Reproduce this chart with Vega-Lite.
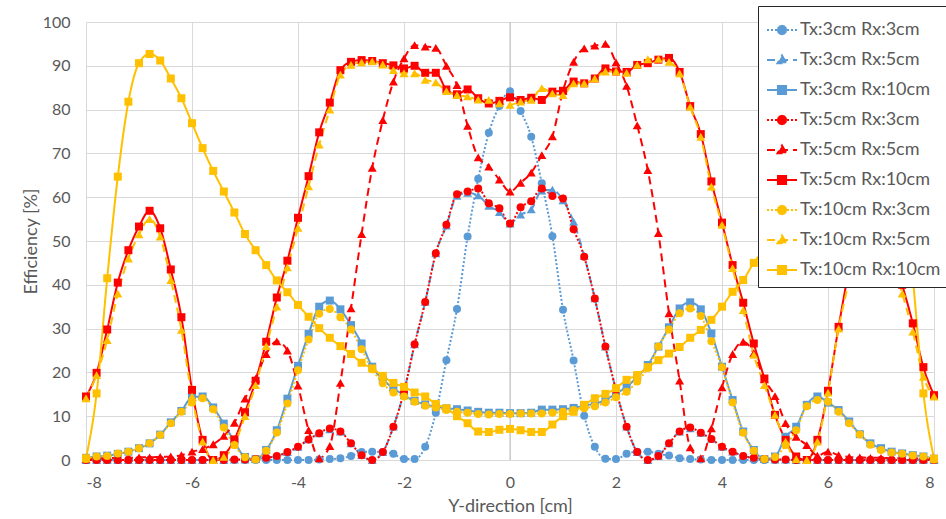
{
"$schema":"https://vega.github.io/schema/vega-lite/v6.json",
"width":848,"height":438,"autosize":"none",
"padding":{"left":86,"top":22,"right":12,"bottom":59},
"background":"white",
"config":{"view":{"stroke":null},"font":"Lato",
"axis":{"labelFont":"Lato","titleFont":"Lato","labelColor":"#595959","titleColor":"#595959","labelFontSize":16,"titleFontSize":18,"titleFontWeight":"normal","gridColor":"#D9D9D9","gridWidth":1,"domain":false,"ticks":false}},
"data":{"values":[
{"series":"Tx:3cm Rx:3cm","x":-8,"y":0},{"series":"Tx:3cm Rx:3cm","x":-7.8,"y":0},{"series":"Tx:3cm Rx:3cm","x":-7.6,"y":0},{"series":"Tx:3cm Rx:3cm","x":-7.4,"y":0},{"series":"Tx:3cm Rx:3cm","x":-7.2,"y":0},{"series":"Tx:3cm Rx:3cm","x":-7,"y":0},{"series":"Tx:3cm Rx:3cm","x":-6.8,"y":0},{"series":"Tx:3cm Rx:3cm","x":-6.6,"y":0},{"series":"Tx:3cm Rx:3cm","x":-6.4,"y":0},{"series":"Tx:3cm Rx:3cm","x":-6.2,"y":0},{"series":"Tx:3cm Rx:3cm","x":-6,"y":0},{"series":"Tx:3cm Rx:3cm","x":-5.8,"y":0},{"series":"Tx:3cm Rx:3cm","x":-5.6,"y":0},{"series":"Tx:3cm Rx:3cm","x":-5.4,"y":0},{"series":"Tx:3cm Rx:3cm","x":-5.2,"y":0},{"series":"Tx:3cm Rx:3cm","x":-5,"y":0},{"series":"Tx:3cm Rx:3cm","x":-4.8,"y":0},{"series":"Tx:3cm Rx:3cm","x":-4.6,"y":0},{"series":"Tx:3cm Rx:3cm","x":-4.4,"y":0},{"series":"Tx:3cm Rx:3cm","x":-4.2,"y":0},{"series":"Tx:3cm Rx:3cm","x":-4,"y":0},{"series":"Tx:3cm Rx:3cm","x":-3.8,"y":0},{"series":"Tx:3cm Rx:3cm","x":-3.6,"y":0.1},{"series":"Tx:3cm Rx:3cm","x":-3.4,"y":0.2},{"series":"Tx:3cm Rx:3cm","x":-3.2,"y":0.4},{"series":"Tx:3cm Rx:3cm","x":-3,"y":0.9},{"series":"Tx:3cm Rx:3cm","x":-2.8,"y":1.8},{"series":"Tx:3cm Rx:3cm","x":-2.6,"y":1.9},{"series":"Tx:3cm Rx:3cm","x":-2.4,"y":1.8},{"series":"Tx:3cm Rx:3cm","x":-2.2,"y":1.4},{"series":"Tx:3cm Rx:3cm","x":-2,"y":0.2},{"series":"Tx:3cm Rx:3cm","x":-1.8,"y":0.2},{"series":"Tx:3cm Rx:3cm","x":-1.6,"y":3.0},{"series":"Tx:3cm Rx:3cm","x":-1.4,"y":10.8},{"series":"Tx:3cm Rx:3cm","x":-1.2,"y":22.8},{"series":"Tx:3cm Rx:3cm","x":-1,"y":34.5},{"series":"Tx:3cm Rx:3cm","x":-0.8,"y":51.0},{"series":"Tx:3cm Rx:3cm","x":-0.6,"y":64.2},{"series":"Tx:3cm Rx:3cm","x":-0.4,"y":74.7},{"series":"Tx:3cm Rx:3cm","x":-0.2,"y":80.8},{"series":"Tx:3cm Rx:3cm","x":0,"y":84.2},{"series":"Tx:3cm Rx:3cm","x":0.2,"y":79.7},{"series":"Tx:3cm Rx:3cm","x":0.4,"y":73.8},{"series":"Tx:3cm Rx:3cm","x":0.6,"y":63.2},{"series":"Tx:3cm Rx:3cm","x":0.8,"y":51.1},{"series":"Tx:3cm Rx:3cm","x":1,"y":34.3},{"series":"Tx:3cm Rx:3cm","x":1.2,"y":22.7},{"series":"Tx:3cm Rx:3cm","x":1.4,"y":10.1},{"series":"Tx:3cm Rx:3cm","x":1.6,"y":3.0},{"series":"Tx:3cm Rx:3cm","x":1.8,"y":0.3},{"series":"Tx:3cm Rx:3cm","x":2,"y":0.2},{"series":"Tx:3cm Rx:3cm","x":2.2,"y":1.4},{"series":"Tx:3cm Rx:3cm","x":2.4,"y":1.9},{"series":"Tx:3cm Rx:3cm","x":2.6,"y":1.9},{"series":"Tx:3cm Rx:3cm","x":2.8,"y":1.4},{"series":"Tx:3cm Rx:3cm","x":3,"y":1.0},{"series":"Tx:3cm Rx:3cm","x":3.2,"y":0.4},{"series":"Tx:3cm Rx:3cm","x":3.4,"y":0.2},{"series":"Tx:3cm Rx:3cm","x":3.6,"y":0.1},{"series":"Tx:3cm Rx:3cm","x":3.8,"y":0},{"series":"Tx:3cm Rx:3cm","x":4,"y":0},{"series":"Tx:3cm Rx:3cm","x":4.2,"y":0},{"series":"Tx:3cm Rx:3cm","x":4.4,"y":0},{"series":"Tx:3cm Rx:3cm","x":4.6,"y":0},{"series":"Tx:3cm Rx:3cm","x":4.8,"y":0},{"series":"Tx:3cm Rx:3cm","x":5,"y":0},{"series":"Tx:3cm Rx:3cm","x":5.2,"y":0},{"series":"Tx:3cm Rx:3cm","x":5.4,"y":0},{"series":"Tx:3cm Rx:3cm","x":5.6,"y":0},{"series":"Tx:3cm Rx:3cm","x":5.8,"y":0},{"series":"Tx:3cm Rx:3cm","x":6,"y":0},{"series":"Tx:3cm Rx:3cm","x":6.2,"y":0},{"series":"Tx:3cm Rx:3cm","x":6.4,"y":0},{"series":"Tx:3cm Rx:3cm","x":6.6,"y":0},{"series":"Tx:3cm Rx:3cm","x":6.8,"y":0},{"series":"Tx:3cm Rx:3cm","x":7,"y":0},{"series":"Tx:3cm Rx:3cm","x":7.2,"y":0},{"series":"Tx:3cm Rx:3cm","x":7.4,"y":0},{"series":"Tx:3cm Rx:3cm","x":7.6,"y":0},{"series":"Tx:3cm Rx:3cm","x":7.8,"y":0},{"series":"Tx:3cm Rx:3cm","x":8,"y":0},
{"series":"Tx:3cm Rx:5cm","x":-8,"y":0},{"series":"Tx:3cm Rx:5cm","x":-7.8,"y":0},{"series":"Tx:3cm Rx:5cm","x":-7.6,"y":0},{"series":"Tx:3cm Rx:5cm","x":-7.4,"y":0},{"series":"Tx:3cm Rx:5cm","x":-7.2,"y":0},{"series":"Tx:3cm Rx:5cm","x":-7,"y":0},{"series":"Tx:3cm Rx:5cm","x":-6.8,"y":0},{"series":"Tx:3cm Rx:5cm","x":-6.6,"y":0},{"series":"Tx:3cm Rx:5cm","x":-6.4,"y":0},{"series":"Tx:3cm Rx:5cm","x":-6.2,"y":0},{"series":"Tx:3cm Rx:5cm","x":-6,"y":0},{"series":"Tx:3cm Rx:5cm","x":-5.8,"y":0},{"series":"Tx:3cm Rx:5cm","x":-5.6,"y":0},{"series":"Tx:3cm Rx:5cm","x":-5.4,"y":0},{"series":"Tx:3cm Rx:5cm","x":-5.2,"y":0.1},{"series":"Tx:3cm Rx:5cm","x":-5,"y":0.1},{"series":"Tx:3cm Rx:5cm","x":-4.8,"y":0.2},{"series":"Tx:3cm Rx:5cm","x":-4.6,"y":0.5},{"series":"Tx:3cm Rx:5cm","x":-4.4,"y":0.9},{"series":"Tx:3cm Rx:5cm","x":-4.2,"y":1.8},{"series":"Tx:3cm Rx:5cm","x":-4,"y":3.0},{"series":"Tx:3cm Rx:5cm","x":-3.8,"y":4.7},{"series":"Tx:3cm Rx:5cm","x":-3.6,"y":6.1},{"series":"Tx:3cm Rx:5cm","x":-3.4,"y":7.0},{"series":"Tx:3cm Rx:5cm","x":-3.2,"y":6.5},{"series":"Tx:3cm Rx:5cm","x":-3,"y":3.8},{"series":"Tx:3cm Rx:5cm","x":-2.8,"y":1.1},{"series":"Tx:3cm Rx:5cm","x":-2.6,"y":0},{"series":"Tx:3cm Rx:5cm","x":-2.4,"y":1.8},{"series":"Tx:3cm Rx:5cm","x":-2.2,"y":7.6},{"series":"Tx:3cm Rx:5cm","x":-2,"y":15.6},{"series":"Tx:3cm Rx:5cm","x":-1.8,"y":26.4},{"series":"Tx:3cm Rx:5cm","x":-1.6,"y":36.1},{"series":"Tx:3cm Rx:5cm","x":-1.4,"y":47.2},{"series":"Tx:3cm Rx:5cm","x":-1.2,"y":53.5},{"series":"Tx:3cm Rx:5cm","x":-1,"y":60.3},{"series":"Tx:3cm Rx:5cm","x":-0.8,"y":61.0},{"series":"Tx:3cm Rx:5cm","x":-0.6,"y":60.4},{"series":"Tx:3cm Rx:5cm","x":-0.4,"y":58.0},{"series":"Tx:3cm Rx:5cm","x":-0.2,"y":56.6},{"series":"Tx:3cm Rx:5cm","x":0,"y":54.0},{"series":"Tx:3cm Rx:5cm","x":0.2,"y":56.0},{"series":"Tx:3cm Rx:5cm","x":0.4,"y":57.2},{"series":"Tx:3cm Rx:5cm","x":0.6,"y":61.5},{"series":"Tx:3cm Rx:5cm","x":0.8,"y":61.7},{"series":"Tx:3cm Rx:5cm","x":1,"y":59.3},{"series":"Tx:3cm Rx:5cm","x":1.2,"y":54.4},{"series":"Tx:3cm Rx:5cm","x":1.4,"y":46.6},{"series":"Tx:3cm Rx:5cm","x":1.6,"y":36.9},{"series":"Tx:3cm Rx:5cm","x":1.8,"y":25.9},{"series":"Tx:3cm Rx:5cm","x":2,"y":16.0},{"series":"Tx:3cm Rx:5cm","x":2.2,"y":7.6},{"series":"Tx:3cm Rx:5cm","x":2.4,"y":1.8},{"series":"Tx:3cm Rx:5cm","x":2.6,"y":0},{"series":"Tx:3cm Rx:5cm","x":2.8,"y":0.9},{"series":"Tx:3cm Rx:5cm","x":3,"y":3.8},{"series":"Tx:3cm Rx:5cm","x":3.2,"y":6.5},{"series":"Tx:3cm Rx:5cm","x":3.4,"y":7.2},{"series":"Tx:3cm Rx:5cm","x":3.6,"y":6.2},{"series":"Tx:3cm Rx:5cm","x":3.8,"y":4.8},{"series":"Tx:3cm Rx:5cm","x":4,"y":3.0},{"series":"Tx:3cm Rx:5cm","x":4.2,"y":1.9},{"series":"Tx:3cm Rx:5cm","x":4.4,"y":0.9},{"series":"Tx:3cm Rx:5cm","x":4.6,"y":0.5},{"series":"Tx:3cm Rx:5cm","x":4.8,"y":0.2},{"series":"Tx:3cm Rx:5cm","x":5,"y":0.1},{"series":"Tx:3cm Rx:5cm","x":5.2,"y":0.1},{"series":"Tx:3cm Rx:5cm","x":5.4,"y":0},{"series":"Tx:3cm Rx:5cm","x":5.6,"y":0},{"series":"Tx:3cm Rx:5cm","x":5.8,"y":0},{"series":"Tx:3cm Rx:5cm","x":6,"y":0},{"series":"Tx:3cm Rx:5cm","x":6.2,"y":0},{"series":"Tx:3cm Rx:5cm","x":6.4,"y":0},{"series":"Tx:3cm Rx:5cm","x":6.6,"y":0},{"series":"Tx:3cm Rx:5cm","x":6.8,"y":0},{"series":"Tx:3cm Rx:5cm","x":7,"y":0},{"series":"Tx:3cm Rx:5cm","x":7.2,"y":0},{"series":"Tx:3cm Rx:5cm","x":7.4,"y":0},{"series":"Tx:3cm Rx:5cm","x":7.6,"y":0},{"series":"Tx:3cm Rx:5cm","x":7.8,"y":0},{"series":"Tx:3cm Rx:5cm","x":8,"y":0},
{"series":"Tx:3cm Rx:10cm","x":-8,"y":0.5},{"series":"Tx:3cm Rx:10cm","x":-7.8,"y":0.8},{"series":"Tx:3cm Rx:10cm","x":-7.6,"y":1.0},{"series":"Tx:3cm Rx:10cm","x":-7.4,"y":1.4},{"series":"Tx:3cm Rx:10cm","x":-7.2,"y":1.9},{"series":"Tx:3cm Rx:10cm","x":-7,"y":2.7},{"series":"Tx:3cm Rx:10cm","x":-6.8,"y":3.8},{"series":"Tx:3cm Rx:10cm","x":-6.6,"y":5.8},{"series":"Tx:3cm Rx:10cm","x":-6.4,"y":8.6},{"series":"Tx:3cm Rx:10cm","x":-6.2,"y":11.2},{"series":"Tx:3cm Rx:10cm","x":-6,"y":14.3},{"series":"Tx:3cm Rx:10cm","x":-5.8,"y":14.5},{"series":"Tx:3cm Rx:10cm","x":-5.6,"y":12.0},{"series":"Tx:3cm Rx:10cm","x":-5.4,"y":8.3},{"series":"Tx:3cm Rx:10cm","x":-5.2,"y":4.2},{"series":"Tx:3cm Rx:10cm","x":-5,"y":0.7},{"series":"Tx:3cm Rx:10cm","x":-4.8,"y":0.2},{"series":"Tx:3cm Rx:10cm","x":-4.6,"y":2.3},{"series":"Tx:3cm Rx:10cm","x":-4.4,"y":6.8},{"series":"Tx:3cm Rx:10cm","x":-4.2,"y":14.0},{"series":"Tx:3cm Rx:10cm","x":-4,"y":21.5},{"series":"Tx:3cm Rx:10cm","x":-3.8,"y":28.8},{"series":"Tx:3cm Rx:10cm","x":-3.6,"y":35.0},{"series":"Tx:3cm Rx:10cm","x":-3.4,"y":36.4},{"series":"Tx:3cm Rx:10cm","x":-3.2,"y":34.4},{"series":"Tx:3cm Rx:10cm","x":-3,"y":30.8},{"series":"Tx:3cm Rx:10cm","x":-2.8,"y":26.6},{"series":"Tx:3cm Rx:10cm","x":-2.6,"y":21.3},{"series":"Tx:3cm Rx:10cm","x":-2.4,"y":18.4},{"series":"Tx:3cm Rx:10cm","x":-2.2,"y":16.4},{"series":"Tx:3cm Rx:10cm","x":-2,"y":14.8},{"series":"Tx:3cm Rx:10cm","x":-1.8,"y":13.5},{"series":"Tx:3cm Rx:10cm","x":-1.6,"y":12.7},{"series":"Tx:3cm Rx:10cm","x":-1.4,"y":12.2},{"series":"Tx:3cm Rx:10cm","x":-1.2,"y":11.8},{"series":"Tx:3cm Rx:10cm","x":-1,"y":11.6},{"series":"Tx:3cm Rx:10cm","x":-0.8,"y":11.3},{"series":"Tx:3cm Rx:10cm","x":-0.6,"y":11.0},{"series":"Tx:3cm Rx:10cm","x":-0.4,"y":10.8},{"series":"Tx:3cm Rx:10cm","x":-0.2,"y":10.8},{"series":"Tx:3cm Rx:10cm","x":0,"y":10.7},{"series":"Tx:3cm Rx:10cm","x":0.2,"y":10.7},{"series":"Tx:3cm Rx:10cm","x":0.4,"y":10.8},{"series":"Tx:3cm Rx:10cm","x":0.6,"y":11.5},{"series":"Tx:3cm Rx:10cm","x":0.8,"y":11.5},{"series":"Tx:3cm Rx:10cm","x":1,"y":11.6},{"series":"Tx:3cm Rx:10cm","x":1.2,"y":11.9},{"series":"Tx:3cm Rx:10cm","x":1.4,"y":12.4},{"series":"Tx:3cm Rx:10cm","x":1.6,"y":12.9},{"series":"Tx:3cm Rx:10cm","x":1.8,"y":13.7},{"series":"Tx:3cm Rx:10cm","x":2,"y":15.2},{"series":"Tx:3cm Rx:10cm","x":2.2,"y":16.7},{"series":"Tx:3cm Rx:10cm","x":2.4,"y":19.0},{"series":"Tx:3cm Rx:10cm","x":2.6,"y":21.7},{"series":"Tx:3cm Rx:10cm","x":2.8,"y":25.9},{"series":"Tx:3cm Rx:10cm","x":3,"y":30.3},{"series":"Tx:3cm Rx:10cm","x":3.2,"y":34.6},{"series":"Tx:3cm Rx:10cm","x":3.4,"y":36.0},{"series":"Tx:3cm Rx:10cm","x":3.6,"y":34.4},{"series":"Tx:3cm Rx:10cm","x":3.8,"y":28.9},{"series":"Tx:3cm Rx:10cm","x":4,"y":21.3},{"series":"Tx:3cm Rx:10cm","x":4.2,"y":13.7},{"series":"Tx:3cm Rx:10cm","x":4.4,"y":6.5},{"series":"Tx:3cm Rx:10cm","x":4.6,"y":2.3},{"series":"Tx:3cm Rx:10cm","x":4.8,"y":0.2},{"series":"Tx:3cm Rx:10cm","x":5,"y":0.8},{"series":"Tx:3cm Rx:10cm","x":5.2,"y":5.3},{"series":"Tx:3cm Rx:10cm","x":5.4,"y":7.6},{"series":"Tx:3cm Rx:10cm","x":5.6,"y":12.6},{"series":"Tx:3cm Rx:10cm","x":5.8,"y":14.5},{"series":"Tx:3cm Rx:10cm","x":6,"y":13.1},{"series":"Tx:3cm Rx:10cm","x":6.2,"y":11.4},{"series":"Tx:3cm Rx:10cm","x":6.4,"y":8.8},{"series":"Tx:3cm Rx:10cm","x":6.6,"y":5.9},{"series":"Tx:3cm Rx:10cm","x":6.8,"y":3.8},{"series":"Tx:3cm Rx:10cm","x":7,"y":2.7},{"series":"Tx:3cm Rx:10cm","x":7.2,"y":1.9},{"series":"Tx:3cm Rx:10cm","x":7.4,"y":1.5},{"series":"Tx:3cm Rx:10cm","x":7.6,"y":1.1},{"series":"Tx:3cm Rx:10cm","x":7.8,"y":0.8},{"series":"Tx:3cm Rx:10cm","x":8,"y":0.3},
{"series":"Tx:5cm Rx:3cm","x":-8,"y":0},{"series":"Tx:5cm Rx:3cm","x":-7.8,"y":0},{"series":"Tx:5cm Rx:3cm","x":-7.6,"y":0},{"series":"Tx:5cm Rx:3cm","x":-7.4,"y":0},{"series":"Tx:5cm Rx:3cm","x":-7.2,"y":0},{"series":"Tx:5cm Rx:3cm","x":-7,"y":0},{"series":"Tx:5cm Rx:3cm","x":-6.8,"y":0},{"series":"Tx:5cm Rx:3cm","x":-6.6,"y":0},{"series":"Tx:5cm Rx:3cm","x":-6.4,"y":0},{"series":"Tx:5cm Rx:3cm","x":-6.2,"y":0},{"series":"Tx:5cm Rx:3cm","x":-6,"y":0},{"series":"Tx:5cm Rx:3cm","x":-5.8,"y":0},{"series":"Tx:5cm Rx:3cm","x":-5.6,"y":0},{"series":"Tx:5cm Rx:3cm","x":-5.4,"y":0},{"series":"Tx:5cm Rx:3cm","x":-5.2,"y":0.1},{"series":"Tx:5cm Rx:3cm","x":-5,"y":0.1},{"series":"Tx:5cm Rx:3cm","x":-4.8,"y":0.2},{"series":"Tx:5cm Rx:3cm","x":-4.6,"y":0.5},{"series":"Tx:5cm Rx:3cm","x":-4.4,"y":0.9},{"series":"Tx:5cm Rx:3cm","x":-4.2,"y":1.8},{"series":"Tx:5cm Rx:3cm","x":-4,"y":3.0},{"series":"Tx:5cm Rx:3cm","x":-3.8,"y":4.7},{"series":"Tx:5cm Rx:3cm","x":-3.6,"y":6.1},{"series":"Tx:5cm Rx:3cm","x":-3.4,"y":7.2},{"series":"Tx:5cm Rx:3cm","x":-3.2,"y":6.5},{"series":"Tx:5cm Rx:3cm","x":-3,"y":3.8},{"series":"Tx:5cm Rx:3cm","x":-2.8,"y":1.1},{"series":"Tx:5cm Rx:3cm","x":-2.6,"y":0},{"series":"Tx:5cm Rx:3cm","x":-2.4,"y":1.8},{"series":"Tx:5cm Rx:3cm","x":-2.2,"y":7.6},{"series":"Tx:5cm Rx:3cm","x":-2,"y":15.6},{"series":"Tx:5cm Rx:3cm","x":-1.8,"y":26.4},{"series":"Tx:5cm Rx:3cm","x":-1.6,"y":36.1},{"series":"Tx:5cm Rx:3cm","x":-1.4,"y":47.2},{"series":"Tx:5cm Rx:3cm","x":-1.2,"y":53.7},{"series":"Tx:5cm Rx:3cm","x":-1,"y":60.7},{"series":"Tx:5cm Rx:3cm","x":-0.8,"y":61.3},{"series":"Tx:5cm Rx:3cm","x":-0.6,"y":62.0},{"series":"Tx:5cm Rx:3cm","x":-0.4,"y":58.6},{"series":"Tx:5cm Rx:3cm","x":-0.2,"y":57.5},{"series":"Tx:5cm Rx:3cm","x":0,"y":54.0},{"series":"Tx:5cm Rx:3cm","x":0.2,"y":57.7},{"series":"Tx:5cm Rx:3cm","x":0.4,"y":59.1},{"series":"Tx:5cm Rx:3cm","x":0.6,"y":62.0},{"series":"Tx:5cm Rx:3cm","x":0.8,"y":60.3},{"series":"Tx:5cm Rx:3cm","x":1,"y":59.7},{"series":"Tx:5cm Rx:3cm","x":1.2,"y":52.7},{"series":"Tx:5cm Rx:3cm","x":1.4,"y":46.4},{"series":"Tx:5cm Rx:3cm","x":1.6,"y":36.9},{"series":"Tx:5cm Rx:3cm","x":1.8,"y":25.9},{"series":"Tx:5cm Rx:3cm","x":2,"y":16.0},{"series":"Tx:5cm Rx:3cm","x":2.2,"y":7.6},{"series":"Tx:5cm Rx:3cm","x":2.4,"y":1.8},{"series":"Tx:5cm Rx:3cm","x":2.6,"y":0},{"series":"Tx:5cm Rx:3cm","x":2.8,"y":0.9},{"series":"Tx:5cm Rx:3cm","x":3,"y":3.8},{"series":"Tx:5cm Rx:3cm","x":3.2,"y":6.5},{"series":"Tx:5cm Rx:3cm","x":3.4,"y":7.4},{"series":"Tx:5cm Rx:3cm","x":3.6,"y":6.2},{"series":"Tx:5cm Rx:3cm","x":3.8,"y":4.8},{"series":"Tx:5cm Rx:3cm","x":4,"y":3.0},{"series":"Tx:5cm Rx:3cm","x":4.2,"y":1.9},{"series":"Tx:5cm Rx:3cm","x":4.4,"y":0.9},{"series":"Tx:5cm Rx:3cm","x":4.6,"y":0.5},{"series":"Tx:5cm Rx:3cm","x":4.8,"y":0.2},{"series":"Tx:5cm Rx:3cm","x":5,"y":0.1},{"series":"Tx:5cm Rx:3cm","x":5.2,"y":0.1},{"series":"Tx:5cm Rx:3cm","x":5.4,"y":0},{"series":"Tx:5cm Rx:3cm","x":5.6,"y":0},{"series":"Tx:5cm Rx:3cm","x":5.8,"y":0},{"series":"Tx:5cm Rx:3cm","x":6,"y":0},{"series":"Tx:5cm Rx:3cm","x":6.2,"y":0},{"series":"Tx:5cm Rx:3cm","x":6.4,"y":0},{"series":"Tx:5cm Rx:3cm","x":6.6,"y":0},{"series":"Tx:5cm Rx:3cm","x":6.8,"y":0},{"series":"Tx:5cm Rx:3cm","x":7,"y":0},{"series":"Tx:5cm Rx:3cm","x":7.2,"y":0},{"series":"Tx:5cm Rx:3cm","x":7.4,"y":0},{"series":"Tx:5cm Rx:3cm","x":7.6,"y":0},{"series":"Tx:5cm Rx:3cm","x":7.8,"y":0},{"series":"Tx:5cm Rx:3cm","x":8,"y":0},
{"series":"Tx:5cm Rx:5cm","x":-8,"y":0.3},{"series":"Tx:5cm Rx:5cm","x":-7.8,"y":0.4},{"series":"Tx:5cm Rx:5cm","x":-7.6,"y":0.4},{"series":"Tx:5cm Rx:5cm","x":-7.4,"y":0.5},{"series":"Tx:5cm Rx:5cm","x":-7.2,"y":0.5},{"series":"Tx:5cm Rx:5cm","x":-7,"y":0.6},{"series":"Tx:5cm Rx:5cm","x":-6.8,"y":0.6},{"series":"Tx:5cm Rx:5cm","x":-6.6,"y":0.7},{"series":"Tx:5cm Rx:5cm","x":-6.4,"y":0.8},{"series":"Tx:5cm Rx:5cm","x":-6.2,"y":1.1},{"series":"Tx:5cm Rx:5cm","x":-6,"y":1.9},{"series":"Tx:5cm Rx:5cm","x":-5.8,"y":2.5},{"series":"Tx:5cm Rx:5cm","x":-5.6,"y":3.6},{"series":"Tx:5cm Rx:5cm","x":-5.4,"y":5.5},{"series":"Tx:5cm Rx:5cm","x":-5.2,"y":8.5},{"series":"Tx:5cm Rx:5cm","x":-5,"y":14.0},{"series":"Tx:5cm Rx:5cm","x":-4.8,"y":18.6},{"series":"Tx:5cm Rx:5cm","x":-4.6,"y":24.2},{"series":"Tx:5cm Rx:5cm","x":-4.4,"y":27.1},{"series":"Tx:5cm Rx:5cm","x":-4.2,"y":25.0},{"series":"Tx:5cm Rx:5cm","x":-4,"y":17.0},{"series":"Tx:5cm Rx:5cm","x":-3.8,"y":6.8},{"series":"Tx:5cm Rx:5cm","x":-3.6,"y":0.4},{"series":"Tx:5cm Rx:5cm","x":-3.4,"y":3.2},{"series":"Tx:5cm Rx:5cm","x":-3.2,"y":17.6},{"series":"Tx:5cm Rx:5cm","x":-3,"y":34.6},{"series":"Tx:5cm Rx:5cm","x":-2.8,"y":51.6},{"series":"Tx:5cm Rx:5cm","x":-2.6,"y":66.7},{"series":"Tx:5cm Rx:5cm","x":-2.4,"y":77.6},{"series":"Tx:5cm Rx:5cm","x":-2.2,"y":86.4},{"series":"Tx:5cm Rx:5cm","x":-2,"y":91.7},{"series":"Tx:5cm Rx:5cm","x":-1.8,"y":94.7},{"series":"Tx:5cm Rx:5cm","x":-1.6,"y":94.4},{"series":"Tx:5cm Rx:5cm","x":-1.4,"y":94.1},{"series":"Tx:5cm Rx:5cm","x":-1.2,"y":90.0},{"series":"Tx:5cm Rx:5cm","x":-1,"y":85.6},{"series":"Tx:5cm Rx:5cm","x":-0.8,"y":76.3},{"series":"Tx:5cm Rx:5cm","x":-0.6,"y":69.1},{"series":"Tx:5cm Rx:5cm","x":-0.4,"y":67.0},{"series":"Tx:5cm Rx:5cm","x":-0.2,"y":64.0},{"series":"Tx:5cm Rx:5cm","x":0,"y":61.3},{"series":"Tx:5cm Rx:5cm","x":0.2,"y":63.3},{"series":"Tx:5cm Rx:5cm","x":0.4,"y":65.6},{"series":"Tx:5cm Rx:5cm","x":0.6,"y":69.6},{"series":"Tx:5cm Rx:5cm","x":0.8,"y":73.9},{"series":"Tx:5cm Rx:5cm","x":1,"y":84.3},{"series":"Tx:5cm Rx:5cm","x":1.2,"y":90.9},{"series":"Tx:5cm Rx:5cm","x":1.4,"y":94.0},{"series":"Tx:5cm Rx:5cm","x":1.6,"y":94.6},{"series":"Tx:5cm Rx:5cm","x":1.8,"y":95.0},{"series":"Tx:5cm Rx:5cm","x":2,"y":90.8},{"series":"Tx:5cm Rx:5cm","x":2.2,"y":85.4},{"series":"Tx:5cm Rx:5cm","x":2.4,"y":76.4},{"series":"Tx:5cm Rx:5cm","x":2.6,"y":66.2},{"series":"Tx:5cm Rx:5cm","x":2.8,"y":51.8},{"series":"Tx:5cm Rx:5cm","x":3,"y":33.5},{"series":"Tx:5cm Rx:5cm","x":3.2,"y":18.1},{"series":"Tx:5cm Rx:5cm","x":3.4,"y":2.9},{"series":"Tx:5cm Rx:5cm","x":3.6,"y":0.4},{"series":"Tx:5cm Rx:5cm","x":3.8,"y":7.2},{"series":"Tx:5cm Rx:5cm","x":4,"y":16.6},{"series":"Tx:5cm Rx:5cm","x":4.2,"y":24.2},{"series":"Tx:5cm Rx:5cm","x":4.4,"y":27.0},{"series":"Tx:5cm Rx:5cm","x":4.6,"y":24.4},{"series":"Tx:5cm Rx:5cm","x":4.8,"y":18.4},{"series":"Tx:5cm Rx:5cm","x":5,"y":14.6},{"series":"Tx:5cm Rx:5cm","x":5.2,"y":8.4},{"series":"Tx:5cm Rx:5cm","x":5.4,"y":5.3},{"series":"Tx:5cm Rx:5cm","x":5.6,"y":3.4},{"series":"Tx:5cm Rx:5cm","x":5.8,"y":1.0},{"series":"Tx:5cm Rx:5cm","x":6,"y":1.9},{"series":"Tx:5cm Rx:5cm","x":6.2,"y":1.1},{"series":"Tx:5cm Rx:5cm","x":6.4,"y":0.7},{"series":"Tx:5cm Rx:5cm","x":6.6,"y":0.6},{"series":"Tx:5cm Rx:5cm","x":6.8,"y":0.5},{"series":"Tx:5cm Rx:5cm","x":7,"y":0.5},{"series":"Tx:5cm Rx:5cm","x":7.2,"y":0.4},{"series":"Tx:5cm Rx:5cm","x":7.4,"y":0.4},{"series":"Tx:5cm Rx:5cm","x":7.6,"y":0.4},{"series":"Tx:5cm Rx:5cm","x":7.8,"y":0.3},{"series":"Tx:5cm Rx:5cm","x":8,"y":0.3},
{"series":"Tx:5cm Rx:10cm","x":-8,"y":14.5},{"series":"Tx:5cm Rx:10cm","x":-7.8,"y":19.9},{"series":"Tx:5cm Rx:10cm","x":-7.6,"y":29.8},{"series":"Tx:5cm Rx:10cm","x":-7.4,"y":40.5},{"series":"Tx:5cm Rx:10cm","x":-7.2,"y":47.9},{"series":"Tx:5cm Rx:10cm","x":-7,"y":53.3},{"series":"Tx:5cm Rx:10cm","x":-6.8,"y":56.9},{"series":"Tx:5cm Rx:10cm","x":-6.6,"y":52.9},{"series":"Tx:5cm Rx:10cm","x":-6.4,"y":43.5},{"series":"Tx:5cm Rx:10cm","x":-6.2,"y":32.6},{"series":"Tx:5cm Rx:10cm","x":-6,"y":16.0},{"series":"Tx:5cm Rx:10cm","x":-5.8,"y":4.6},{"series":"Tx:5cm Rx:10cm","x":-5.6,"y":0.0},{"series":"Tx:5cm Rx:10cm","x":-5.4,"y":1.1},{"series":"Tx:5cm Rx:10cm","x":-5.2,"y":4.7},{"series":"Tx:5cm Rx:10cm","x":-5,"y":10.9},{"series":"Tx:5cm Rx:10cm","x":-4.8,"y":18.1},{"series":"Tx:5cm Rx:10cm","x":-4.6,"y":27.0},{"series":"Tx:5cm Rx:10cm","x":-4.4,"y":37.1},{"series":"Tx:5cm Rx:10cm","x":-4.2,"y":45.5},{"series":"Tx:5cm Rx:10cm","x":-4,"y":55.3},{"series":"Tx:5cm Rx:10cm","x":-3.8,"y":64.8},{"series":"Tx:5cm Rx:10cm","x":-3.6,"y":74.8},{"series":"Tx:5cm Rx:10cm","x":-3.4,"y":81.6},{"series":"Tx:5cm Rx:10cm","x":-3.2,"y":89.0},{"series":"Tx:5cm Rx:10cm","x":-3,"y":90.9},{"series":"Tx:5cm Rx:10cm","x":-2.8,"y":91.3},{"series":"Tx:5cm Rx:10cm","x":-2.6,"y":91.1},{"series":"Tx:5cm Rx:10cm","x":-2.4,"y":90.6},{"series":"Tx:5cm Rx:10cm","x":-2.2,"y":90.1},{"series":"Tx:5cm Rx:10cm","x":-2,"y":89.4},{"series":"Tx:5cm Rx:10cm","x":-1.8,"y":90.0},{"series":"Tx:5cm Rx:10cm","x":-1.6,"y":88.4},{"series":"Tx:5cm Rx:10cm","x":-1.4,"y":88.4},{"series":"Tx:5cm Rx:10cm","x":-1.2,"y":84.6},{"series":"Tx:5cm Rx:10cm","x":-1,"y":83.5},{"series":"Tx:5cm Rx:10cm","x":-0.8,"y":84.6},{"series":"Tx:5cm Rx:10cm","x":-0.6,"y":82.6},{"series":"Tx:5cm Rx:10cm","x":-0.4,"y":81.4},{"series":"Tx:5cm Rx:10cm","x":-0.2,"y":82.0},{"series":"Tx:5cm Rx:10cm","x":0,"y":82.8},{"series":"Tx:5cm Rx:10cm","x":0.2,"y":82.2},{"series":"Tx:5cm Rx:10cm","x":0.4,"y":82.7},{"series":"Tx:5cm Rx:10cm","x":0.6,"y":82.2},{"series":"Tx:5cm Rx:10cm","x":0.8,"y":84.1},{"series":"Tx:5cm Rx:10cm","x":1,"y":84.3},{"series":"Tx:5cm Rx:10cm","x":1.2,"y":86.4},{"series":"Tx:5cm Rx:10cm","x":1.4,"y":86.0},{"series":"Tx:5cm Rx:10cm","x":1.6,"y":87.1},{"series":"Tx:5cm Rx:10cm","x":1.8,"y":89.4},{"series":"Tx:5cm Rx:10cm","x":2,"y":88.7},{"series":"Tx:5cm Rx:10cm","x":2.2,"y":88.6},{"series":"Tx:5cm Rx:10cm","x":2.4,"y":90.2},{"series":"Tx:5cm Rx:10cm","x":2.6,"y":90.6},{"series":"Tx:5cm Rx:10cm","x":2.8,"y":91.4},{"series":"Tx:5cm Rx:10cm","x":3,"y":91.8},{"series":"Tx:5cm Rx:10cm","x":3.2,"y":88.6},{"series":"Tx:5cm Rx:10cm","x":3.4,"y":80.8},{"series":"Tx:5cm Rx:10cm","x":3.6,"y":74.4},{"series":"Tx:5cm Rx:10cm","x":3.8,"y":63.6},{"series":"Tx:5cm Rx:10cm","x":4,"y":54.2},{"series":"Tx:5cm Rx:10cm","x":4.2,"y":44.5},{"series":"Tx:5cm Rx:10cm","x":4.4,"y":35.9},{"series":"Tx:5cm Rx:10cm","x":4.6,"y":26.6},{"series":"Tx:5cm Rx:10cm","x":4.8,"y":18.6},{"series":"Tx:5cm Rx:10cm","x":5,"y":10.3},{"series":"Tx:5cm Rx:10cm","x":5.2,"y":4.6},{"series":"Tx:5cm Rx:10cm","x":5.4,"y":0.8},{"series":"Tx:5cm Rx:10cm","x":5.6,"y":0.0},{"series":"Tx:5cm Rx:10cm","x":5.8,"y":4.6},{"series":"Tx:5cm Rx:10cm","x":6,"y":15.8},{"series":"Tx:5cm Rx:10cm","x":6.2,"y":30.4},{"series":"Tx:5cm Rx:10cm","x":6.4,"y":43.5},{"series":"Tx:5cm Rx:10cm","x":6.6,"y":52.9},{"series":"Tx:5cm Rx:10cm","x":6.8,"y":56.9},{"series":"Tx:5cm Rx:10cm","x":7,"y":53.3},{"series":"Tx:5cm Rx:10cm","x":7.2,"y":47.9},{"series":"Tx:5cm Rx:10cm","x":7.4,"y":40.0},{"series":"Tx:5cm Rx:10cm","x":7.6,"y":31.2},{"series":"Tx:5cm Rx:10cm","x":7.8,"y":21.2},{"series":"Tx:5cm Rx:10cm","x":8,"y":14.8},
{"series":"Tx:10cm Rx:3cm","x":-8,"y":0.2},{"series":"Tx:10cm Rx:3cm","x":-7.8,"y":0.8},{"series":"Tx:10cm Rx:3cm","x":-7.6,"y":0.9},{"series":"Tx:10cm Rx:3cm","x":-7.4,"y":1.5},{"series":"Tx:10cm Rx:3cm","x":-7.2,"y":1.9},{"series":"Tx:10cm Rx:3cm","x":-7,"y":2.7},{"series":"Tx:10cm Rx:3cm","x":-6.8,"y":3.8},{"series":"Tx:10cm Rx:3cm","x":-6.6,"y":5.7},{"series":"Tx:10cm Rx:3cm","x":-6.4,"y":8.4},{"series":"Tx:10cm Rx:3cm","x":-6.2,"y":11.0},{"series":"Tx:10cm Rx:3cm","x":-6,"y":13.1},{"series":"Tx:10cm Rx:3cm","x":-5.8,"y":14.1},{"series":"Tx:10cm Rx:3cm","x":-5.6,"y":11.6},{"series":"Tx:10cm Rx:3cm","x":-5.4,"y":7.4},{"series":"Tx:10cm Rx:3cm","x":-5.2,"y":3.4},{"series":"Tx:10cm Rx:3cm","x":-5,"y":0.6},{"series":"Tx:10cm Rx:3cm","x":-4.8,"y":0.1},{"series":"Tx:10cm Rx:3cm","x":-4.6,"y":2.1},{"series":"Tx:10cm Rx:3cm","x":-4.4,"y":6.3},{"series":"Tx:10cm Rx:3cm","x":-4.2,"y":12.9},{"series":"Tx:10cm Rx:3cm","x":-4,"y":20.5},{"series":"Tx:10cm Rx:3cm","x":-3.8,"y":27.5},{"series":"Tx:10cm Rx:3cm","x":-3.6,"y":33.4},{"series":"Tx:10cm Rx:3cm","x":-3.4,"y":34.5},{"series":"Tx:10cm Rx:3cm","x":-3.2,"y":32.6},{"series":"Tx:10cm Rx:3cm","x":-3,"y":29.8},{"series":"Tx:10cm Rx:3cm","x":-2.8,"y":25.3},{"series":"Tx:10cm Rx:3cm","x":-2.6,"y":20.7},{"series":"Tx:10cm Rx:3cm","x":-2.4,"y":17.5},{"series":"Tx:10cm Rx:3cm","x":-2.2,"y":15.4},{"series":"Tx:10cm Rx:3cm","x":-2,"y":14.5},{"series":"Tx:10cm Rx:3cm","x":-1.8,"y":13.3},{"series":"Tx:10cm Rx:3cm","x":-1.6,"y":12.4},{"series":"Tx:10cm Rx:3cm","x":-1.4,"y":12.0},{"series":"Tx:10cm Rx:3cm","x":-1.2,"y":11.4},{"series":"Tx:10cm Rx:3cm","x":-1,"y":11.0},{"series":"Tx:10cm Rx:3cm","x":-0.8,"y":10.8},{"series":"Tx:10cm Rx:3cm","x":-0.6,"y":10.5},{"series":"Tx:10cm Rx:3cm","x":-0.4,"y":10.4},{"series":"Tx:10cm Rx:3cm","x":-0.2,"y":10.5},{"series":"Tx:10cm Rx:3cm","x":0,"y":10.5},{"series":"Tx:10cm Rx:3cm","x":0.2,"y":10.6},{"series":"Tx:10cm Rx:3cm","x":0.4,"y":10.6},{"series":"Tx:10cm Rx:3cm","x":0.6,"y":10.6},{"series":"Tx:10cm Rx:3cm","x":0.8,"y":10.8},{"series":"Tx:10cm Rx:3cm","x":1,"y":11.0},{"series":"Tx:10cm Rx:3cm","x":1.2,"y":11.4},{"series":"Tx:10cm Rx:3cm","x":1.4,"y":11.8},{"series":"Tx:10cm Rx:3cm","x":1.6,"y":12.3},{"series":"Tx:10cm Rx:3cm","x":1.8,"y":13.1},{"series":"Tx:10cm Rx:3cm","x":2,"y":14.3},{"series":"Tx:10cm Rx:3cm","x":2.2,"y":15.6},{"series":"Tx:10cm Rx:3cm","x":2.4,"y":17.9},{"series":"Tx:10cm Rx:3cm","x":2.6,"y":21.0},{"series":"Tx:10cm Rx:3cm","x":2.8,"y":25.9},{"series":"Tx:10cm Rx:3cm","x":3,"y":29.8},{"series":"Tx:10cm Rx:3cm","x":3.2,"y":33.5},{"series":"Tx:10cm Rx:3cm","x":3.4,"y":34.6},{"series":"Tx:10cm Rx:3cm","x":3.6,"y":32.9},{"series":"Tx:10cm Rx:3cm","x":3.8,"y":27.1},{"series":"Tx:10cm Rx:3cm","x":4,"y":21.2},{"series":"Tx:10cm Rx:3cm","x":4.2,"y":13.1},{"series":"Tx:10cm Rx:3cm","x":4.4,"y":6.2},{"series":"Tx:10cm Rx:3cm","x":4.6,"y":2.1},{"series":"Tx:10cm Rx:3cm","x":4.8,"y":0.2},{"series":"Tx:10cm Rx:3cm","x":5,"y":0.7},{"series":"Tx:10cm Rx:3cm","x":5.2,"y":3.4},{"series":"Tx:10cm Rx:3cm","x":5.4,"y":6.8},{"series":"Tx:10cm Rx:3cm","x":5.6,"y":12.3},{"series":"Tx:10cm Rx:3cm","x":5.8,"y":13.7},{"series":"Tx:10cm Rx:3cm","x":6,"y":13.3},{"series":"Tx:10cm Rx:3cm","x":6.2,"y":11.0},{"series":"Tx:10cm Rx:3cm","x":6.4,"y":8.4},{"series":"Tx:10cm Rx:3cm","x":6.6,"y":5.8},{"series":"Tx:10cm Rx:3cm","x":6.8,"y":3.5},{"series":"Tx:10cm Rx:3cm","x":7,"y":2.3},{"series":"Tx:10cm Rx:3cm","x":7.2,"y":1.7},{"series":"Tx:10cm Rx:3cm","x":7.4,"y":1.4},{"series":"Tx:10cm Rx:3cm","x":7.6,"y":1.0},{"series":"Tx:10cm Rx:3cm","x":7.8,"y":0.8},{"series":"Tx:10cm Rx:3cm","x":8,"y":0.1},
{"series":"Tx:10cm Rx:5cm","x":-8,"y":14.1},{"series":"Tx:10cm Rx:5cm","x":-7.8,"y":19.4},{"series":"Tx:10cm Rx:5cm","x":-7.6,"y":27.4},{"series":"Tx:10cm Rx:5cm","x":-7.4,"y":38.0},{"series":"Tx:10cm Rx:5cm","x":-7.2,"y":46.0},{"series":"Tx:10cm Rx:5cm","x":-7,"y":51.5},{"series":"Tx:10cm Rx:5cm","x":-6.8,"y":55.0},{"series":"Tx:10cm Rx:5cm","x":-6.6,"y":51.0},{"series":"Tx:10cm Rx:5cm","x":-6.4,"y":41.1},{"series":"Tx:10cm Rx:5cm","x":-6.2,"y":29.7},{"series":"Tx:10cm Rx:5cm","x":-6,"y":14.5},{"series":"Tx:10cm Rx:5cm","x":-5.8,"y":4.2},{"series":"Tx:10cm Rx:5cm","x":-5.6,"y":0.0},{"series":"Tx:10cm Rx:5cm","x":-5.4,"y":0.7},{"series":"Tx:10cm Rx:5cm","x":-5.2,"y":3.6},{"series":"Tx:10cm Rx:5cm","x":-5,"y":10.0},{"series":"Tx:10cm Rx:5cm","x":-4.8,"y":17.1},{"series":"Tx:10cm Rx:5cm","x":-4.6,"y":26.0},{"series":"Tx:10cm Rx:5cm","x":-4.4,"y":35.0},{"series":"Tx:10cm Rx:5cm","x":-4.2,"y":44.0},{"series":"Tx:10cm Rx:5cm","x":-4,"y":53.0},{"series":"Tx:10cm Rx:5cm","x":-3.8,"y":62.5},{"series":"Tx:10cm Rx:5cm","x":-3.6,"y":72.0},{"series":"Tx:10cm Rx:5cm","x":-3.4,"y":80.0},{"series":"Tx:10cm Rx:5cm","x":-3.2,"y":88.0},{"series":"Tx:10cm Rx:5cm","x":-3,"y":90.2},{"series":"Tx:10cm Rx:5cm","x":-2.8,"y":90.8},{"series":"Tx:10cm Rx:5cm","x":-2.6,"y":91.0},{"series":"Tx:10cm Rx:5cm","x":-2.4,"y":90.3},{"series":"Tx:10cm Rx:5cm","x":-2.2,"y":89.0},{"series":"Tx:10cm Rx:5cm","x":-2,"y":88.3},{"series":"Tx:10cm Rx:5cm","x":-1.8,"y":88.3},{"series":"Tx:10cm Rx:5cm","x":-1.6,"y":86.8},{"series":"Tx:10cm Rx:5cm","x":-1.4,"y":86.2},{"series":"Tx:10cm Rx:5cm","x":-1.2,"y":84.2},{"series":"Tx:10cm Rx:5cm","x":-1,"y":83.3},{"series":"Tx:10cm Rx:5cm","x":-0.8,"y":83.0},{"series":"Tx:10cm Rx:5cm","x":-0.6,"y":82.3},{"series":"Tx:10cm Rx:5cm","x":-0.4,"y":82.2},{"series":"Tx:10cm Rx:5cm","x":-0.2,"y":81.4},{"series":"Tx:10cm Rx:5cm","x":0,"y":81.1},{"series":"Tx:10cm Rx:5cm","x":0.2,"y":81.8},{"series":"Tx:10cm Rx:5cm","x":0.4,"y":82.2},{"series":"Tx:10cm Rx:5cm","x":0.6,"y":84.9},{"series":"Tx:10cm Rx:5cm","x":0.8,"y":83.7},{"series":"Tx:10cm Rx:5cm","x":1,"y":83.3},{"series":"Tx:10cm Rx:5cm","x":1.2,"y":86.0},{"series":"Tx:10cm Rx:5cm","x":1.4,"y":86.0},{"series":"Tx:10cm Rx:5cm","x":1.6,"y":87.1},{"series":"Tx:10cm Rx:5cm","x":1.8,"y":88.7},{"series":"Tx:10cm Rx:5cm","x":2,"y":88.7},{"series":"Tx:10cm Rx:5cm","x":2.2,"y":88.4},{"series":"Tx:10cm Rx:5cm","x":2.4,"y":90.2},{"series":"Tx:10cm Rx:5cm","x":2.6,"y":91.5},{"series":"Tx:10cm Rx:5cm","x":2.8,"y":91.6},{"series":"Tx:10cm Rx:5cm","x":3,"y":90.9},{"series":"Tx:10cm Rx:5cm","x":3.2,"y":88.3},{"series":"Tx:10cm Rx:5cm","x":3.4,"y":80.6},{"series":"Tx:10cm Rx:5cm","x":3.6,"y":73.8},{"series":"Tx:10cm Rx:5cm","x":3.8,"y":62.4},{"series":"Tx:10cm Rx:5cm","x":4,"y":53.7},{"series":"Tx:10cm Rx:5cm","x":4.2,"y":43.8},{"series":"Tx:10cm Rx:5cm","x":4.4,"y":34.2},{"series":"Tx:10cm Rx:5cm","x":4.6,"y":24.0},{"series":"Tx:10cm Rx:5cm","x":4.8,"y":17.1},{"series":"Tx:10cm Rx:5cm","x":5,"y":10.3},{"series":"Tx:10cm Rx:5cm","x":5.2,"y":4.2},{"series":"Tx:10cm Rx:5cm","x":5.4,"y":0.2},{"series":"Tx:10cm Rx:5cm","x":5.6,"y":0.0},{"series":"Tx:10cm Rx:5cm","x":5.8,"y":4.2},{"series":"Tx:10cm Rx:5cm","x":6,"y":15.4},{"series":"Tx:10cm Rx:5cm","x":6.2,"y":30.0},{"series":"Tx:10cm Rx:5cm","x":6.4,"y":41.1},{"series":"Tx:10cm Rx:5cm","x":6.6,"y":51.0},{"series":"Tx:10cm Rx:5cm","x":6.8,"y":55.0},{"series":"Tx:10cm Rx:5cm","x":7,"y":51.5},{"series":"Tx:10cm Rx:5cm","x":7.2,"y":46.0},{"series":"Tx:10cm Rx:5cm","x":7.4,"y":38.0},{"series":"Tx:10cm Rx:5cm","x":7.6,"y":29.3},{"series":"Tx:10cm Rx:5cm","x":7.8,"y":19.0},{"series":"Tx:10cm Rx:5cm","x":8,"y":14.5},
{"series":"Tx:10cm Rx:10cm","x":-8,"y":0.4},{"series":"Tx:10cm Rx:10cm","x":-7.8,"y":15.2},{"series":"Tx:10cm Rx:10cm","x":-7.6,"y":41.5},{"series":"Tx:10cm Rx:10cm","x":-7.4,"y":64.7},{"series":"Tx:10cm Rx:10cm","x":-7.2,"y":81.8},{"series":"Tx:10cm Rx:10cm","x":-7,"y":90.6},{"series":"Tx:10cm Rx:10cm","x":-6.8,"y":92.7},{"series":"Tx:10cm Rx:10cm","x":-6.6,"y":91.2},{"series":"Tx:10cm Rx:10cm","x":-6.4,"y":87.1},{"series":"Tx:10cm Rx:10cm","x":-6.2,"y":82.6},{"series":"Tx:10cm Rx:10cm","x":-6,"y":76.9},{"series":"Tx:10cm Rx:10cm","x":-5.8,"y":71.2},{"series":"Tx:10cm Rx:10cm","x":-5.6,"y":66.0},{"series":"Tx:10cm Rx:10cm","x":-5.4,"y":61.3},{"series":"Tx:10cm Rx:10cm","x":-5.2,"y":56.5},{"series":"Tx:10cm Rx:10cm","x":-5,"y":51.6},{"series":"Tx:10cm Rx:10cm","x":-4.8,"y":47.9},{"series":"Tx:10cm Rx:10cm","x":-4.6,"y":44.5},{"series":"Tx:10cm Rx:10cm","x":-4.4,"y":41.0},{"series":"Tx:10cm Rx:10cm","x":-4.2,"y":38.3},{"series":"Tx:10cm Rx:10cm","x":-4,"y":35.4},{"series":"Tx:10cm Rx:10cm","x":-3.8,"y":32.7},{"series":"Tx:10cm Rx:10cm","x":-3.6,"y":30.1},{"series":"Tx:10cm Rx:10cm","x":-3.4,"y":27.9},{"series":"Tx:10cm Rx:10cm","x":-3.2,"y":26.0},{"series":"Tx:10cm Rx:10cm","x":-3,"y":24.2},{"series":"Tx:10cm Rx:10cm","x":-2.8,"y":22.2},{"series":"Tx:10cm Rx:10cm","x":-2.6,"y":20.9},{"series":"Tx:10cm Rx:10cm","x":-2.4,"y":19.2},{"series":"Tx:10cm Rx:10cm","x":-2.2,"y":17.6},{"series":"Tx:10cm Rx:10cm","x":-2,"y":16.7},{"series":"Tx:10cm Rx:10cm","x":-1.8,"y":15.4},{"series":"Tx:10cm Rx:10cm","x":-1.6,"y":14.5},{"series":"Tx:10cm Rx:10cm","x":-1.4,"y":12.8},{"series":"Tx:10cm Rx:10cm","x":-1.2,"y":11.8},{"series":"Tx:10cm Rx:10cm","x":-1,"y":10.0},{"series":"Tx:10cm Rx:10cm","x":-0.8,"y":8.4},{"series":"Tx:10cm Rx:10cm","x":-0.6,"y":6.5},{"series":"Tx:10cm Rx:10cm","x":-0.4,"y":6.4},{"series":"Tx:10cm Rx:10cm","x":-0.2,"y":6.9},{"series":"Tx:10cm Rx:10cm","x":0,"y":7.1},{"series":"Tx:10cm Rx:10cm","x":0.2,"y":6.8},{"series":"Tx:10cm Rx:10cm","x":0.4,"y":6.4},{"series":"Tx:10cm Rx:10cm","x":0.6,"y":6.4},{"series":"Tx:10cm Rx:10cm","x":0.8,"y":8.1},{"series":"Tx:10cm Rx:10cm","x":1,"y":10.0},{"series":"Tx:10cm Rx:10cm","x":1.2,"y":11.0},{"series":"Tx:10cm Rx:10cm","x":1.4,"y":12.6},{"series":"Tx:10cm Rx:10cm","x":1.6,"y":14.1},{"series":"Tx:10cm Rx:10cm","x":1.8,"y":15.1},{"series":"Tx:10cm Rx:10cm","x":2,"y":16.4},{"series":"Tx:10cm Rx:10cm","x":2.2,"y":18.3},{"series":"Tx:10cm Rx:10cm","x":2.4,"y":19.4},{"series":"Tx:10cm Rx:10cm","x":2.6,"y":21.2},{"series":"Tx:10cm Rx:10cm","x":2.8,"y":22.8},{"series":"Tx:10cm Rx:10cm","x":3,"y":24.3},{"series":"Tx:10cm Rx:10cm","x":3.2,"y":25.8},{"series":"Tx:10cm Rx:10cm","x":3.4,"y":27.9},{"series":"Tx:10cm Rx:10cm","x":3.6,"y":29.7},{"series":"Tx:10cm Rx:10cm","x":3.8,"y":32.0},{"series":"Tx:10cm Rx:10cm","x":4,"y":35.0},{"series":"Tx:10cm Rx:10cm","x":4.2,"y":38.4},{"series":"Tx:10cm Rx:10cm","x":4.4,"y":41.1},{"series":"Tx:10cm Rx:10cm","x":4.6,"y":45.0},{"series":"Tx:10cm Rx:10cm","x":4.8,"y":48.2},{"series":"Tx:10cm Rx:10cm","x":5,"y":51.8},{"series":"Tx:10cm Rx:10cm","x":5.2,"y":56.5},{"series":"Tx:10cm Rx:10cm","x":5.4,"y":61.3},{"series":"Tx:10cm Rx:10cm","x":5.6,"y":66.0},{"series":"Tx:10cm Rx:10cm","x":5.8,"y":71.2},{"series":"Tx:10cm Rx:10cm","x":6,"y":77.0},{"series":"Tx:10cm Rx:10cm","x":6.2,"y":82.6},{"series":"Tx:10cm Rx:10cm","x":6.4,"y":87.1},{"series":"Tx:10cm Rx:10cm","x":6.6,"y":91.2},{"series":"Tx:10cm Rx:10cm","x":6.8,"y":92.7},{"series":"Tx:10cm Rx:10cm","x":7,"y":90.6},{"series":"Tx:10cm Rx:10cm","x":7.2,"y":81.8},{"series":"Tx:10cm Rx:10cm","x":7.4,"y":64.7},{"series":"Tx:10cm Rx:10cm","x":7.6,"y":41.5},{"series":"Tx:10cm Rx:10cm","x":7.8,"y":15.2},{"series":"Tx:10cm Rx:10cm","x":8,"y":0.3}
]},
"layer":[
{"transform":[{"filter":"false"}],"mark":{"type":"point","filled":true,"opacity":1},
 "encoding":{
  "fill":{"field":"series","type":"nominal","scale":{"domain":["Tx:3cm Rx:3cm","Tx:3cm Rx:5cm","Tx:3cm Rx:10cm","Tx:5cm Rx:3cm","Tx:5cm Rx:5cm","Tx:5cm Rx:10cm","Tx:10cm Rx:3cm","Tx:10cm Rx:5cm","Tx:10cm Rx:10cm"],"range":["#5B9BD5","#5B9BD5","#5B9BD5","#FF0000","#FF0000","#FF0000","#FFC000","#FFC000","#FFC000"]},"legend":{"title":null,"orient":"none","legendX":672,"legendY":-16,"symbolSize":900,"symbolStrokeWidth":2,"labelFontSize":18,"labelFont":"Lato","labelColor":"#595959","strokeColor":"#262626","fillColor":"white","padding":8,"rowPadding":5,"labelOffset":2}},
  "stroke":{"field":"series","type":"nominal","scale":{"domain":["Tx:3cm Rx:3cm","Tx:3cm Rx:5cm","Tx:3cm Rx:10cm","Tx:5cm Rx:3cm","Tx:5cm Rx:5cm","Tx:5cm Rx:10cm","Tx:10cm Rx:3cm","Tx:10cm Rx:5cm","Tx:10cm Rx:10cm"],"range":["#5B9BD5","#5B9BD5","#5B9BD5","#FF0000","#FF0000","#FF0000","#FFC000","#FFC000","#FFC000"]},"legend":{"title":null,"orient":"none","legendX":672,"legendY":-16,"symbolSize":900,"symbolStrokeWidth":2,"labelFontSize":18,"labelFont":"Lato","labelColor":"#595959","strokeColor":"#262626","fillColor":"white","padding":8,"rowPadding":5,"labelOffset":2}},
  "shape":{"field":"series","type":"nominal","scale":{"domain":["Tx:3cm Rx:3cm","Tx:3cm Rx:5cm","Tx:3cm Rx:10cm","Tx:5cm Rx:3cm","Tx:5cm Rx:5cm","Tx:5cm Rx:10cm","Tx:10cm Rx:3cm","Tx:10cm Rx:5cm","Tx:10cm Rx:10cm"],"range":["M-1,0L1,0M0.279,0L0.242,0.14L0.14,0.242L0,0.279L-0.14,0.242L-0.242,0.14L-0.279,0L-0.242,-0.14L-0.14,-0.242L0,-0.279L0.14,-0.242L0.242,-0.14L0.279,0L0.242,0.14L0.14,0.242L0,0.279L-0.14,0.242L-0.242,0.14L-0.279,0L-0.242,-0.14L-0.14,-0.242L0,-0.279L0.14,-0.242L0.242,-0.14L0.279,0","M-1,0L1,0M0,-0.3L0.3,0.22L-0.3,0.22Z","M-1,0L1,0M-0.27,-0.27L0.27,-0.27L0.27,0.27L-0.27,0.27Z","M-1,0L1,0M0.279,0L0.242,0.14L0.14,0.242L0,0.279L-0.14,0.242L-0.242,0.14L-0.279,0L-0.242,-0.14L-0.14,-0.242L0,-0.279L0.14,-0.242L0.242,-0.14L0.279,0L0.242,0.14L0.14,0.242L0,0.279L-0.14,0.242L-0.242,0.14L-0.279,0L-0.242,-0.14L-0.14,-0.242L0,-0.279L0.14,-0.242L0.242,-0.14L0.279,0","M-1,0L1,0M0,-0.3L0.3,0.22L-0.3,0.22Z","M-1,0L1,0M-0.27,-0.27L0.27,-0.27L0.27,0.27L-0.27,0.27Z","M-1,0L1,0M0.279,0L0.242,0.14L0.14,0.242L0,0.279L-0.14,0.242L-0.242,0.14L-0.279,0L-0.242,-0.14L-0.14,-0.242L0,-0.279L0.14,-0.242L0.242,-0.14L0.279,0L0.242,0.14L0.14,0.242L0,0.279L-0.14,0.242L-0.242,0.14L-0.279,0L-0.242,-0.14L-0.14,-0.242L0,-0.279L0.14,-0.242L0.242,-0.14L0.279,0","M-1,0L1,0M0,-0.3L0.3,0.22L-0.3,0.22Z","M-1,0L1,0M-0.27,-0.27L0.27,-0.27L0.27,0.27L-0.27,0.27Z"]},"legend":{"title":null,"orient":"none","legendX":672,"legendY":-16,"symbolSize":900,"symbolStrokeWidth":2,"labelFontSize":18,"labelFont":"Lato","labelColor":"#595959","strokeColor":"#262626","fillColor":"white","padding":8,"rowPadding":5,"labelOffset":2}},
  "strokeDash":{"field":"series","type":"nominal","scale":{"domain":["Tx:3cm Rx:3cm","Tx:3cm Rx:5cm","Tx:3cm Rx:10cm","Tx:5cm Rx:3cm","Tx:5cm Rx:5cm","Tx:5cm Rx:10cm","Tx:10cm Rx:3cm","Tx:10cm Rx:5cm","Tx:10cm Rx:10cm"],"range":[[2,2],[8,5],[1,0],[2,2],[8,5],[1,0],[2,2],[8,5],[1,0]]},"legend":{"title":null,"orient":"none","legendX":672,"legendY":-16,"symbolSize":900,"symbolStrokeWidth":2,"labelFontSize":18,"labelFont":"Lato","labelColor":"#595959","strokeColor":"#262626","fillColor":"white","padding":8,"rowPadding":5,"labelOffset":2}}
 }},
{"data":{"values":[{"x":0}]},"mark":{"type":"rule","color":"#BFBFBF","strokeWidth":1},"encoding":{"x":{"field":"x","type":"quantitative"}}},
{"mark":{"type":"line","interpolate":"monotone","strokeWidth":2},
 "encoding":{
  "x":{"field":"x","type":"quantitative","scale":{"domain":[-8,8],"nice":false,"zero":false},"axis":{"values":[-8,-6,-4,-2,0,2,4,6,8],"labelExpr":"'' + datum.value","title":"Y-direction [cm]","labelPadding":14,"titlePadding":7,"grid":true}},
  "y":{"field":"y","type":"quantitative","scale":{"domain":[0,100],"nice":false},"axis":{"values":[0,10,20,30,40,50,60,70,80,90,100],"title":"Efficiency [%]","labelPadding":16,"titlePadding":2,"grid":true}},
  "stroke":{"field":"series","type":"nominal","legend":null},
  "strokeDash":{"field":"series","type":"nominal","legend":null}
 }},
{"transform":[{"filter":{"field":"series","equal":"Tx:3cm Rx:3cm"}}],"mark":{"type":"point","shape":"circle","filled":true,"size":64,"opacity":1},"encoding":{"x":{"field":"x","type":"quantitative"},"y":{"field":"y","type":"quantitative"},"fill":{"field":"series","type":"nominal","legend":null}}},
{"transform":[{"filter":{"field":"series","equal":"Tx:3cm Rx:5cm"}}],"mark":{"type":"point","shape":"triangle-up","filled":true,"size":81,"opacity":1},"encoding":{"x":{"field":"x","type":"quantitative"},"y":{"field":"y","type":"quantitative"},"fill":{"field":"series","type":"nominal","legend":null}}},
{"transform":[{"filter":{"field":"series","equal":"Tx:3cm Rx:10cm"}}],"mark":{"type":"point","shape":"square","filled":true,"size":64,"opacity":1},"encoding":{"x":{"field":"x","type":"quantitative"},"y":{"field":"y","type":"quantitative"},"fill":{"field":"series","type":"nominal","legend":null}}},
{"transform":[{"filter":{"field":"series","equal":"Tx:5cm Rx:3cm"}}],"mark":{"type":"point","shape":"circle","filled":true,"size":64,"opacity":1},"encoding":{"x":{"field":"x","type":"quantitative"},"y":{"field":"y","type":"quantitative"},"fill":{"field":"series","type":"nominal","legend":null}}},
{"transform":[{"filter":{"field":"series","equal":"Tx:5cm Rx:5cm"}}],"mark":{"type":"point","shape":"triangle-up","filled":true,"size":81,"opacity":1},"encoding":{"x":{"field":"x","type":"quantitative"},"y":{"field":"y","type":"quantitative"},"fill":{"field":"series","type":"nominal","legend":null}}},
{"transform":[{"filter":{"field":"series","equal":"Tx:5cm Rx:10cm"}}],"mark":{"type":"point","shape":"square","filled":true,"size":64,"opacity":1},"encoding":{"x":{"field":"x","type":"quantitative"},"y":{"field":"y","type":"quantitative"},"fill":{"field":"series","type":"nominal","legend":null}}},
{"transform":[{"filter":{"field":"series","equal":"Tx:10cm Rx:3cm"}}],"mark":{"type":"point","shape":"circle","filled":true,"size":64,"opacity":1},"encoding":{"x":{"field":"x","type":"quantitative"},"y":{"field":"y","type":"quantitative"},"fill":{"field":"series","type":"nominal","legend":null}}},
{"transform":[{"filter":{"field":"series","equal":"Tx:10cm Rx:5cm"}}],"mark":{"type":"point","shape":"triangle-up","filled":true,"size":81,"opacity":1},"encoding":{"x":{"field":"x","type":"quantitative"},"y":{"field":"y","type":"quantitative"},"fill":{"field":"series","type":"nominal","legend":null}}},
{"transform":[{"filter":{"field":"series","equal":"Tx:10cm Rx:10cm"}}],"mark":{"type":"point","shape":"square","filled":true,"size":64,"opacity":1},"encoding":{"x":{"field":"x","type":"quantitative"},"y":{"field":"y","type":"quantitative"},"fill":{"field":"series","type":"nominal","legend":null}}}
]
}
